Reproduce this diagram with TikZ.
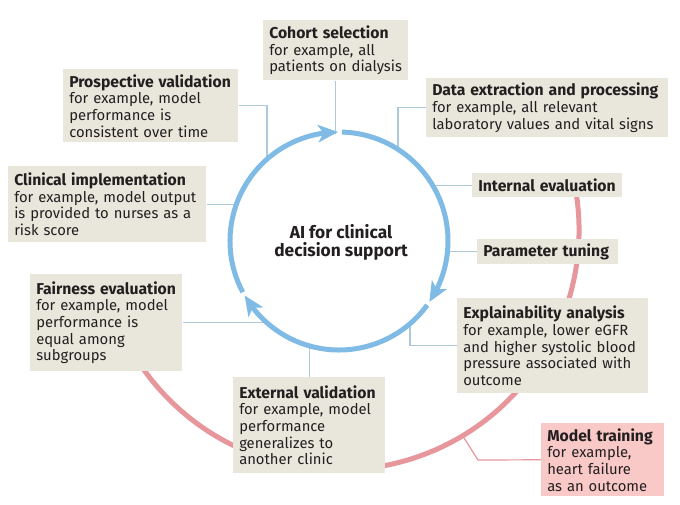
\documentclass[tikz,border=0pt]{standalone}
\usepackage{fontspec}
\setmainfont{Fira Sans}
\usetikzlibrary{arrows.meta,bending,backgrounds}
\definecolor{boxbeige}{RGB}{233,231,220}
\definecolor{boxpink}{RGB}{249,201,199}
\definecolor{looppink}{RGB}{231,150,156}
\definecolor{cycleblue}{RGB}{128,187,229}
\definecolor{linkblue}{RGB}{172,201,222}
\definecolor{inktext}{RGB}{35,31,32}
\newcommand{\stagehead}[1]{{\fontsize{11.8}{12.5}\selectfont\bfseries #1}}
\newcommand{\nohyph}{\hyphenpenalty=10000\relax}

\begin{document}
\begin{tikzpicture}[x=0.75pt, y=-0.75pt,
    font=\fontsize{11.1}{12.5}\selectfont\nohyph, text=inktext,
    stage/.style={fill=boxbeige, anchor=north west, align=left, inner xsep=4.5pt, inner ysep=3pt},
    link/.style={linkblue, line width=0.9pt},
    cycleline/.style={cycleblue, line width=3.75pt, -{Stealth[length=15pt,width=13pt,inset=4pt]}},
  ]
  \useasboundingbox (0,0) rectangle (680,504);
  \coordinate (hub) at (339,241);
  \coordinate (loop) at (339,230);

  % Stages
  \node[stage, text width=99.75pt, minimum height=45pt] (cohort) at (263,20)
    {\stagehead{Cohort selection}\\for example, all\\patients on dialysis};
  \node[stage, text width=172.5pt, minimum height=44.25pt] (data) at (426,78)
    {\stagehead{Data extraction and processing}\\for example, all relevant\\laboratory values and vital signs};
  \node[stage, text width=122.25pt, minimum height=54.75pt] (prosp) at (63,69)
    {\stagehead{Prospective validation}\\for example, model\\performance is\\consistent over time};
  \node[stage, text width=139.5pt, minimum height=57pt] (clin) at (8,166)
    {\stagehead{Clinical implementation}\\for example, model output\\is provided to nurses as a\\risk score};
  \node[stage, text width=103.5pt, minimum height=18pt] (inteval) at (472,173)
    {\stagehead{Internal evaluation}};
  \node[stage, text width=96.75pt, minimum height=18pt] (param) at (477,239)
    {\stagehead{Parameter tuning}};
  \node[stage, text width=134.25pt, minimum height=71.25pt] (explain) at (457,298)
    {\stagehead{Explainability analysis}\\for example, lower eGFR\\and higher systolic blood\\pressure associated with\\outcome};
  \node[stage, text width=105pt, minimum height=72pt] (extval) at (233,377)
    {\stagehead{External validation}\\for example, model\\performance\\generalizes to\\another clinic};
  \node[stage, text width=105pt, minimum height=72.75pt] (fair) at (30,274)
    {\stagehead{Fairness evaluation}\\for example, model\\performance is\\equal among\\subgroups};
  \node[stage, fill=boxpink, text width=83.25pt, minimum height=54.75pt] (train) at (541,423)
    {\stagehead{Model training}\\for example,\\heart failure\\as an outcome};

  % Cycle
  \node[font=\bfseries\fontsize{13}{13.5}\selectfont, align=center] (core) at (341,242)
    {AI for clinical\\decision support};
  \foreach \from/\to in {88.5/-34, -36/-150, -152/-269.5}
    \draw[cycleline] ([shift={(\from:81.75pt)}]hub) arc[start angle=\from, end angle=\to, radius=81.75pt];

  \coordinate (dataknee) at (398,241);
  \coordinate (prospknee) at (267,241);
  \coordinate (explknee) at (410,241);
  \coordinate (trainknee) at (478,460);
  \coordinate (trainfoot) at ([shift={(-59:180pt)}]loop);

  \begin{scope}[on background layer]
    % Training loop
    \draw[looppink, line width=3.75pt] ([shift={(12:180pt)}]loop) arc[start angle=12, end angle=-150, radius=180pt];
    \draw[looppink, line width=0.9pt] (train.west) -- (trainknee) -- (trainfoot);
    % Links to the cycle
    \draw[link] (cohort.south) -- (cohort.south |- hub);
    \draw[link] (data.west) -| (dataknee);
    \draw[link] (prosp.east) -| (prospknee);
    \draw[link] (clin.east) -- (clin.east -| hub);
    \draw[link] (inteval.west) -- (inteval.west -| hub);
    \draw[link] (param.west) -- (param.west -| hub);
    \draw[link] (explain.west) -| (explknee);
    \draw[link] (extval.north) -- (extval.north |- hub);
    \draw[link] (fair.east) -- (fair.east -| hub);
    \fill[white] (hub) circle[radius=80pt];
  \end{scope}
\end{tikzpicture}
\end{document}
